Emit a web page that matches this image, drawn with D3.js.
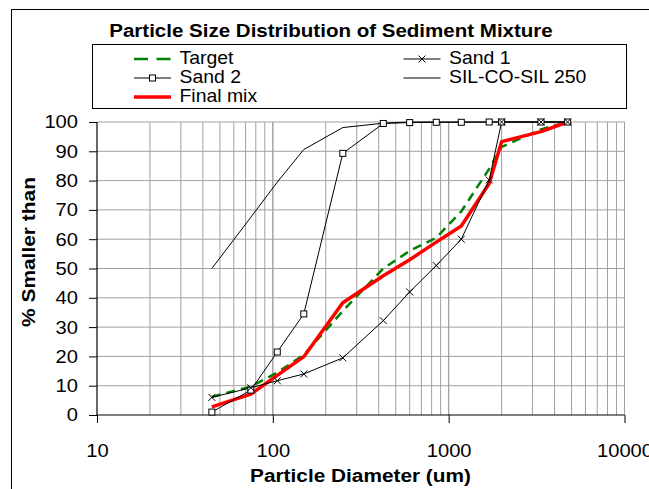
<!DOCTYPE html>
<html><head><meta charset="utf-8">
<script src="https://cdn.jsdelivr.net/npm/d3@7"></script>
<style>body{margin:0;background:#fff}svg{display:block}text{font-family:"Liberation Sans",Arial,sans-serif}</style>
</head><body><svg id="c" width="649" height="489"></svg>
<script>
const sizes = [45, 75, 106, 150, 250, 425, 600, 850, 1180, 1700, 2000, 3350, 4750];
const target = [6.2, 9.7, 14.5, 20.5, 35.5, 50, 56, 60.5, 69.5, 84, 91.5, 97.5, 100];
const sand1 = [6, 9.3, 11.7, 14, 19.5, 32.2, 42, 51, 60, 80.2, 100, 100, 100];
const sand2 = [1, 8.5, 21.5, 34.5, 89.3, 99.5, 99.8, 99.9, 99.9, 100, 100, 100, 100];
const silcosil = [50, 67.5, 79.5, 90.6, 98.1, 99.6, 100, 100, 100, 100, 100, 100, 100];
const finalMix = [2.8, 7.1, 13.5, 19.9, 38.3, 47.5, 53, 59, 64.5, 79, 93.3, 96.7, 100];
const xTicks = [10, 100, 1000, 10000];
const yTicks = [0,10,20,30,40,50,60,70,80,90,100];

const FS = 18.67;
const svg = d3.select("#c");
const x = d3.scaleLog().domain([10,10000]).range([97,624.5]);
const y = d3.scaleLinear().domain([0,100]).range([415,122]);

svg.append("rect").attr("x",11.5).attr("y",9.5).attr("width",700).attr("height",500)
  .attr("fill","#fff").attr("stroke","#000");

svg.append("text").attr("transform","translate(331,36.7) scale(1.1,1)").attr("text-anchor","middle")
  .attr("font-size",FS).attr("font-weight","bold").text("Particle Size Distribution of Sediment Mixture");

// gridlines
const minor = [];
for (let d=10; d<10000; d*=10) for (let k=1;k<=10;k++) minor.push(d*k);
const g = svg.append("g");
g.selectAll("line.v").data(minor).join("line")
  .attr("x1",d=>x(d)).attr("x2",d=>x(d)).attr("y1",y(0)).attr("y2",y(100))
  .attr("stroke","#a0a0a0").attr("stroke-width",1);
g.selectAll("line.h").data(yTicks.slice(1)).join("line")
  .attr("x1",x(10)).attr("x2",x(10000)).attr("y1",d=>y(d)).attr("y2",d=>y(d))
  .attr("stroke","#a0a0a0").attr("stroke-width",1);

// axes
const xAxis = d3.axisBottom(x).tickValues(xTicks).tickFormat(d3.format("d")).tickSize(8).tickPadding(20.4);
const yAxis = d3.axisLeft(y).tickValues(yTicks).tickSize(8).tickPadding(11);
const gx = svg.append("g").attr("transform",`translate(0,${y(0)})`).call(xAxis);
const gy = svg.append("g").attr("transform",`translate(${x(10)},0)`).call(yAxis);
[gx,gy].forEach(a=>{
  a.select(".domain").attr("stroke","#000");
  a.selectAll(".tick line").attr("stroke","#000");
  a.selectAll(".tick text").attr("font-size",FS).attr("font-family","Liberation Sans, Arial, sans-serif").attr("fill","#000");
});
gx.selectAll(".tick text").attr("transform","scale(1.08,1)");
gy.selectAll(".tick text").attr("x",-19/1.08).attr("transform","scale(1.08,1)");
gx.select(".domain").attr("d",`M${x(10)},0H${x(10000)}`);
gy.select(".domain").attr("d",`M0,${y(0)}V${y(100)}`);

svg.append("text").attr("transform","translate(360.5,481.7) scale(1.115,1)").attr("text-anchor","middle")
  .attr("font-size",FS).attr("font-weight","bold").text("Particle Diameter (um)");
svg.append("text").attr("transform","translate(35,252) rotate(-90) scale(1.12,1)").attr("text-anchor","middle")
  .attr("font-size",FS).attr("font-weight","bold").text("% Smaller than");

const line = d3.line().x(d=>x(d[0])).y(d=>y(d[1]));
const pts = v => sizes.map((s,i)=>[s,v[i]]);

// series
svg.append("path").attr("d",line(pts(target))).attr("fill","none").attr("stroke","#008000")
  .attr("stroke-width",2.5).attr("stroke-dasharray","9,6");
svg.append("path").attr("d",line(pts(finalMix))).attr("fill","none").attr("stroke","#ff0000")
  .attr("stroke-width",3.5).attr("stroke-linejoin","round");
svg.append("path").attr("d",line(pts(silcosil))).attr("fill","none").attr("stroke","#000").attr("stroke-width",1);
svg.append("path").attr("d",line(pts(sand1))).attr("fill","none").attr("stroke","#000").attr("stroke-width",1);
svg.append("path").attr("d",line(pts(sand2))).attr("fill","none").attr("stroke","#000").attr("stroke-width",1);

function xMark(sel){ sel.append("path").attr("d","M-3.5,-3.5L3.5,3.5M-3.5,3.5L3.5,-3.5").attr("stroke","#000").attr("stroke-width",1); }
function sqMark(sel){ sel.append("rect").attr("x",-3).attr("y",-3).attr("width",6).attr("height",6).attr("fill","#fff").attr("stroke","#000").attr("stroke-width",1); }

svg.append("g").selectAll("g").data(pts(sand2)).join("g")
  .attr("transform",d=>`translate(${x(d[0])},${y(d[1])})`).each(function(){sqMark(d3.select(this));});
svg.append("g").selectAll("g").data(pts(sand1)).join("g")
  .attr("transform",d=>`translate(${x(d[0])},${y(d[1])})`).each(function(){xMark(d3.select(this));});

// legend
svg.append("rect").attr("x",92.5).attr("y",44.5).attr("width",534).attr("height",64)
  .attr("fill","#fff").attr("stroke","#000");
const legend = [
  {name:"Target", col:0, row:0, type:"target"},
  {name:"Sand 1", col:1, row:0, type:"sand1"},
  {name:"Sand 2", col:0, row:1, type:"sand2"},
  {name:"SIL-CO-SIL 250", col:1, row:1, type:"sil"},
  {name:"Final mix", col:0, row:2, type:"final"}
];
const lx = [134, 403.5], ly = [59, 78, 97];
legend.forEach(l=>{
  const x0 = lx[l.col], yy = ly[l.row];
  const gl = svg.append("g");
  const ln = gl.append("line").attr("x1",x0).attr("x2",x0+37).attr("y1",yy).attr("y2",yy);
  if (l.type==="target") ln.attr("stroke","#008000").attr("stroke-width",2.5).attr("stroke-dasharray","14,8.5");
  else if (l.type==="final") ln.attr("stroke","#ff0000").attr("stroke-width",3.5);
  else ln.attr("stroke","#000").attr("stroke-width",1);
  if (l.type==="sand1") xMark(gl.append("g").attr("transform",`translate(${x0+18.5},${yy})`));
  if (l.type==="sand2") sqMark(gl.append("g").attr("transform",`translate(${x0+18.5},${yy})`));
  gl.append("text").attr("transform",`translate(${x0+45.5},${yy+5.3}) scale(1.04,1)`).attr("font-size",FS).text(l.name);
});
</script></body></html>
